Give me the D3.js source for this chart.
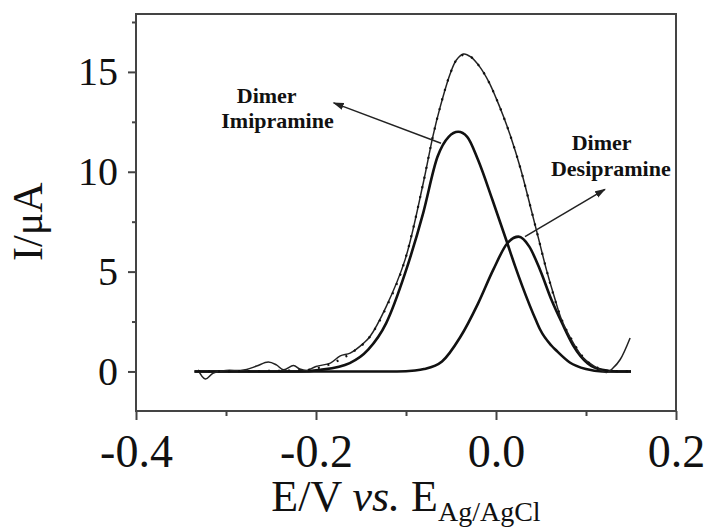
<!DOCTYPE html>
<html>
<head>
<meta charset="utf-8">
<script src="https://cdn.jsdelivr.net/npm/d3@7"></script>
<style>
  body { margin: 0; background: #fff; }
  svg { display: block; font-family: "Liberation Serif", "Times New Roman", serif; }
</style>
</head>
<body>
<svg id="chart"></svg>
<script>
// measured voltammogram (E in V, I in uA)
const expE = [-0.331, -0.323, -0.314, -0.300, -0.284, -0.277, -0.266, -0.253, -0.244, -0.236, -0.225, -0.218, -0.210,
              -0.200, -0.184, -0.173, -0.162, -0.147, -0.140, -0.122, -0.101, -0.081, -0.070, -0.062, -0.051, -0.044,
              -0.036, -0.028, -0.018, -0.008, 0.000, 0.008, 0.016, 0.027, 0.038, 0.047, 0.056, 0.065, 0.073, 0.086,
              0.097, 0.112, 0.123, 0.130, 0.138, 0.149];
const expI = [0.08, -0.38, -0.08, 0.05, 0.05, 0.10, 0.27, 0.47, 0.33, 0.08, 0.30, 0.12, 0.05,
              0.25, 0.42, 0.78, 0.92, 1.42, 1.75, 3.25, 5.6, 9.4, 11.8, 13.25, 14.9, 15.6,
              15.9, 15.75, 15.25, 14.5, 13.7, 12.8, 11.8, 10.2, 8.3, 6.7, 5.1, 3.7, 2.58, 1.42,
              0.68, 0.18, -0.05, 0.17, 0.6, 1.68];

// fitted total (dotted)
const fitE = [-0.331, -0.22, -0.20, -0.18, -0.16, -0.14, -0.122, -0.101, -0.081, -0.070, -0.062, -0.051, -0.044,
              -0.036, -0.028, -0.018, -0.008, 0.000, 0.008, 0.016, 0.027, 0.038, 0.047, 0.056, 0.073, 0.086, 0.097,
              0.112, 0.125, 0.150];
const fitI = [0, 0.05, 0.15, 0.45, 0.95, 1.75, 3.2, 5.6, 9.4, 11.8, 13.25, 14.9, 15.6,
              15.85, 15.75, 15.25, 14.5, 13.7, 12.8, 11.8, 10.2, 8.3, 6.7, 5.1, 2.6, 1.45, 0.7,
              0.2, 0.03, 0];

// deconvoluted peak: dimer imipramine
const imiE = [-0.335, -0.22, -0.195, -0.1625, -0.142, -0.122, -0.101, -0.081, -0.065, -0.0526, -0.042, -0.032,
              -0.020, -0.004, 0.0126, 0.021, 0.029, 0.045, 0.049, 0.0615, 0.067, 0.082, 0.100, 0.118, 0.150];
const imiI = [0, 0, 0.08, 0.42, 1.09, 2.42, 4.92, 7.92, 10.75, 11.75, 12.0, 11.75,
              10.6, 8.6, 6.42, 5.3, 4.3, 2.5, 2.1, 1.3, 1.05, 0.45, 0.12, 0, 0];

// deconvoluted peak: dimer desipramine
const desE = [-0.335, -0.11, -0.09, -0.08, -0.06, -0.04, -0.02, -0.003, 0.0126, 0.025, 0.037, 0.049,
              0.0615, 0.0736, 0.0858, 0.102, 0.118, 0.135, 0.150];
const desI = [0, 0, 0.05, 0.12, 0.5, 1.7, 3.4, 5.1, 6.42, 6.75, 6.25, 5.08,
              3.6, 2.4, 1.3, 0.4, 0.08, 0, 0];

const xTicks = [-0.4, -0.2, 0.0, 0.2];
const xMinorTicks = [-0.3, -0.1, 0.1];
const yTicks = [0, 5, 10, 15];
const yMinorTicks = [2.5, 7.5, 12.5, 17.5];

const imiLabel = ["Dimer", "Imipramine"];
const desLabel = ["Dimer", "Desipramine"];

class PeakChart {
    constructor(_config) {
        this.config = {
            parentElement: _config.parentElement,
            containerWidth: _config.containerWidth || 706,
            containerHeight: _config.containerHeight || 528,
            margin: _config.margin || {top: 14, right: 30, bottom: 117, left: 136}
        }
        this.initVis();
    }

    initVis() {
        let vis = this;

        vis.width = vis.config.containerWidth - vis.config.margin.left - vis.config.margin.right;
        vis.height = vis.config.containerHeight - vis.config.margin.top - vis.config.margin.bottom;

        vis.svg = d3.select(vis.config.parentElement)
            .attr('width', vis.config.containerWidth)
            .attr('height', vis.config.containerHeight);

        vis.chart = vis.svg.append('g')
            .attr('transform', `translate(${vis.config.margin.left},${vis.config.margin.top})`);

        vis.xScale = d3.scaleLinear().domain([-0.4, 0.2]).range([0, vis.width]);
        vis.yScale = d3.scaleLinear().domain([-1.98, 17.9]).range([vis.height, 0]);

        // arrow head
        vis.svg.append('defs').append('marker')
            .attr('id', 'arrow')
            .attr('markerUnits', 'userSpaceOnUse')
            .attr('markerWidth', 12).attr('markerHeight', 8)
            .attr('refX', 10).attr('refY', 4)
            .attr('orient', 'auto')
          .append('path')
            .attr('d', 'M0,0.5 L11,4 L0,7.5 Z')
            .attr('fill', '#222');

        vis.renderVis();
    }

    renderVis() {
        let vis = this;
        const fmt = d => d.toFixed(1);

        // minor ticks
        vis.chart.append('g')
            .attr('class', 'axis')
            .attr('transform', `translate(0,${vis.height})`)
            .call(d3.axisBottom(vis.xScale).tickValues(xMinorTicks).tickSize(5).tickFormat(''));
        vis.chart.append('g')
            .attr('class', 'axis')
            .call(d3.axisLeft(vis.yScale).tickValues(yMinorTicks).tickSize(4).tickFormat(''));

        // major ticks
        vis.xAxisG = vis.chart.append('g')
            .attr('class', 'axis')
            .attr('transform', `translate(0,${vis.height})`)
            .call(d3.axisBottom(vis.xScale).tickValues(xTicks).tickSize(9).tickPadding(14).tickFormat(fmt));
        vis.yAxisG = vis.chart.append('g')
            .attr('class', 'axis')
            .call(d3.axisLeft(vis.yScale).tickValues(yTicks).tickSize(8).tickPadding(10).tickFormat(d => d));

        vis.chart.selectAll('.axis .domain').remove();
        vis.chart.selectAll('.axis line').attr('stroke', '#444').attr('stroke-width', 2);
        vis.chart.selectAll('.axis text')
            .attr('fill', '#111')
            .style('font-family', '"Liberation Serif", serif')
            .style('font-size', '40px');
        vis.xAxisG.selectAll('text').style('font-size', '46px');

        // frame
        vis.chart.append('rect')
            .attr('width', vis.width)
            .attr('height', vis.height)
            .attr('fill', 'none')
            .attr('stroke', '#444')
            .attr('stroke-width', 2);

        // axis titles
        vis.svg.append('text')
            .attr('transform', `translate(42,${vis.config.margin.top + vis.yScale(7.5)}) rotate(-90)`)
            .attr('text-anchor', 'middle')
            .style('font-size', '42px')
            .attr('fill', '#111')
            .text('I/\u03BCA');

        const xt = vis.svg.append('text')
            .attr('x', vis.config.margin.left + vis.width / 2)
            .attr('y', 511)
            .attr('text-anchor', 'middle')
            .style('font-size', '44px')
            .attr('fill', '#111');
        xt.append('tspan').text('E/V ');
        xt.append('tspan').style('font-style', 'italic').text('vs.');
        xt.append('tspan').text(' E');
        xt.append('tspan').attr('dy', 10).style('font-size', '28px').text('Ag/AgCl');

        // curves
        const line = (xs, ys, curve) => d3.line()
            .x((d, i) => vis.xScale(xs[i]))
            .y((d, i) => vis.yScale(ys[i]))
            .curve(curve)(xs);

        vis.chart.append('path')
            .attr('d', line(imiE, imiI, d3.curveMonotoneX))
            .attr('fill', 'none').attr('stroke', '#111').attr('stroke-width', 2.6);
        vis.chart.append('path')
            .attr('d', line(desE, desI, d3.curveMonotoneX))
            .attr('fill', 'none').attr('stroke', '#111').attr('stroke-width', 2.6);
        vis.chart.append('path')
            .attr('d', line(expE, expI, d3.curveCatmullRom.alpha(0.5)))
            .attr('fill', 'none').attr('stroke', '#222').attr('stroke-width', 1.5);
        vis.chart.append('path')
            .attr('d', line(fitE, fitI, d3.curveMonotoneX))
            .attr('fill', 'none').attr('stroke', '#111').attr('stroke-width', 2.2)
            .attr('stroke-dasharray', '2,8');

        // annotations
        const addLabel = (lines, pos) => {
            lines.forEach((t, i) => {
                vis.chart.append('text')
                    .attr('x', vis.xScale(pos[i][0]))
                    .attr('y', vis.yScale(pos[i][1]))
                    .attr('text-anchor', 'middle')
                    .style('font-size', '22px')
                    .style('font-weight', 'bold')
                    .attr('fill', '#111')
                    .text(t);
            });
        };
        addLabel(imiLabel, [[-0.2548, 13.43], [-0.2428, 12.21]]);
        addLabel(desLabel, [[0.1174, 11.08], [0.1276, 9.81]]);

        const arrow = (from, to) => {
            vis.chart.append('line')
                .attr('x1', vis.xScale(from[0])).attr('y1', vis.yScale(from[1]))
                .attr('x2', vis.xScale(to[0])).attr('y2', vis.yScale(to[1]))
                .attr('stroke', '#222').attr('stroke-width', 1.5)
                .attr('marker-end', 'url(#arrow)');
        };
        arrow([-0.0611, 11.43], [-0.1804, 13.45]);
        arrow([0.0322, 6.75], [0.1211, 9.12]);
    }
}

new PeakChart({parentElement: '#chart'});
</script>
</body>
</html>
